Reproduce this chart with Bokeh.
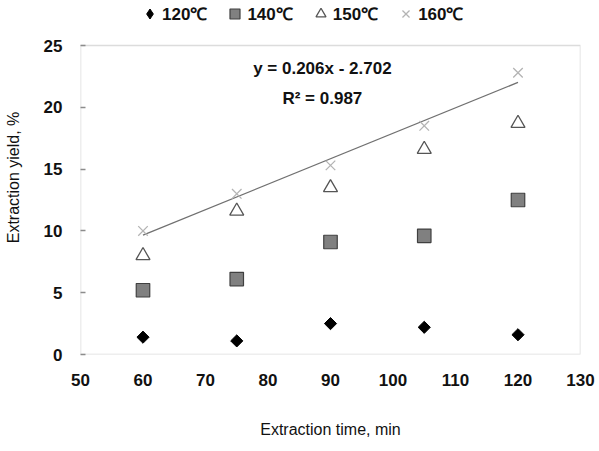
from bokeh.plotting import figure
from bokeh.models import Legend, LegendItem, FixedTicker, Range1d, Label, BoxAnnotation
from bokeh.embed import file_html
from bokeh.resources import INLINE
import math

time_min = [60, 75, 90, 105, 120]
y120 = [1.4, 1.1, 2.5, 2.2, 1.6]
y140 = [5.2, 6.1, 9.1, 9.6, 12.5]
y150 = [8.0, 11.6, 13.5, 16.6, 18.7]
y160 = [10.0, 13.0, 15.3, 18.5, 22.8]
slope, intercept = 0.206, -2.702
fit_x = [60, 120]
fit_y = [slope * x + intercept for x in fit_x]
x_ticks = [50, 60, 70, 80, 90, 100, 110, 120, 130]
y_ticks = [0, 5, 10, 15, 20, 25]
series_labels = ["120℃", "140℃", "150℃", "160℃"]
eq_text = "y = 0.206x - 2.702"
r2_text = "R² = 0.987"

X_MIN, X_MAX = 50, 130
Y_MIN, Y_MAX = 0, 25

FONT = "Liberation Sans"
GRAY = "#8c8c8c"

# frame spans the full height above the x axis; the data box (0..25) is drawn as an annotation
frame_h = 354
box_h = 309
y_top = Y_MAX * frame_h / box_h

p = figure(width=599, height=451, output_backend="svg", toolbar_location=None, title=None,
           x_range=Range1d(X_MIN, X_MAX), y_range=Range1d(Y_MIN, y_top),
           min_border_left=80, min_border_right=19, min_border_top=0, min_border_bottom=97)
p.background_fill_color = "white"
p.border_fill_color = "white"
p.grid.visible = False
p.outline_line_color = None

for ax in (p.xaxis[0], p.yaxis[0]):
    ax.axis_line_color = None
    ax.major_tick_line_color = GRAY
    ax.major_tick_line_width = 1.3
    ax.minor_tick_line_color = None
    ax.major_label_text_font = FONT
    ax.major_label_text_font_style = "bold"
    ax.major_label_text_font_size = "17px"
    ax.major_label_text_color = "#111111"
    ax.axis_label_text_font = FONT
    ax.axis_label_text_font_style = "normal"
    ax.axis_label_text_font_size = "16px"
    ax.axis_label_text_color = "#111111"

p.xaxis.ticker = FixedTicker(ticks=x_ticks)
p.yaxis.ticker = FixedTicker(ticks=y_ticks)
p.xaxis.major_tick_in = 0
p.xaxis.major_tick_out = 0
p.yaxis.major_tick_in = 5
p.yaxis.major_tick_out = 0
p.xaxis.major_label_standoff = 19
p.yaxis.major_label_standoff = 18
p.xaxis.axis_label = "Extraction time, min"
p.yaxis.axis_label = "Extraction yield, %"
p.xaxis.axis_label_standoff = 32
p.yaxis.axis_label_standoff = 19

p.add_layout(BoxAnnotation(left=X_MIN, right=X_MAX, bottom=Y_MIN, top=Y_MAX,
                           fill_alpha=0, line_color=GRAY, line_width=1.5, level="underlay"))

p.line(fit_x, fit_y, line_color="#707070", line_width=1.3)

# diamond key glyph for the legend (hidden under the rotated squares below)
r1_key = p.scatter(time_min, y120, marker="diamond", size=10, fill_color="black", line_color="black")
r1 = p.scatter(time_min, y120, marker="square", size=8.6, angle=math.pi / 4,
               fill_color="black", line_color="black")
r2 = p.scatter(time_min, y140, marker="square", size=13.5, fill_color="#808080",
               line_color="#404040", line_width=1.2)
r3 = p.scatter(time_min, y150, marker="triangle", size=14, fill_color="white",
               line_color="#555555", line_width=1.3)
r4 = p.scatter(time_min, y160, marker="x", size=13.5, line_color="#b4b4b4", line_width=1.3)

legend = Legend(items=[LegendItem(label=series_labels[i], renderers=[r]) for i, r in enumerate([r1_key, r2, r3, r4])],
                orientation="horizontal", location=(57, 328))
legend.label_text_font = FONT
legend.label_text_font_style = "bold"
legend.label_text_font_size = "17px"
legend.label_text_color = "#111111"
legend.glyph_width = 25
legend.glyph_height = 25
legend.label_standoff = -4
legend.spacing = 15
legend.padding = 0
legend.margin = 0
legend.border_line_color = None
legend.background_fill_alpha = 0
p.add_layout(legend)

p.add_layout(Label(x=88.7, y=23.14, text=eq_text, text_font=FONT, text_font_style="bold",
                   text_font_size="17px", text_align="center", text_baseline="middle", text_color="#111111"))
p.add_layout(Label(x=88.7, y=20.71, text=r2_text, text_font=FONT, text_font_style="bold",
                   text_font_size="17px", text_align="center", text_baseline="middle", text_color="#111111"))

open("out.html", "w").write(file_html(p, INLINE))
